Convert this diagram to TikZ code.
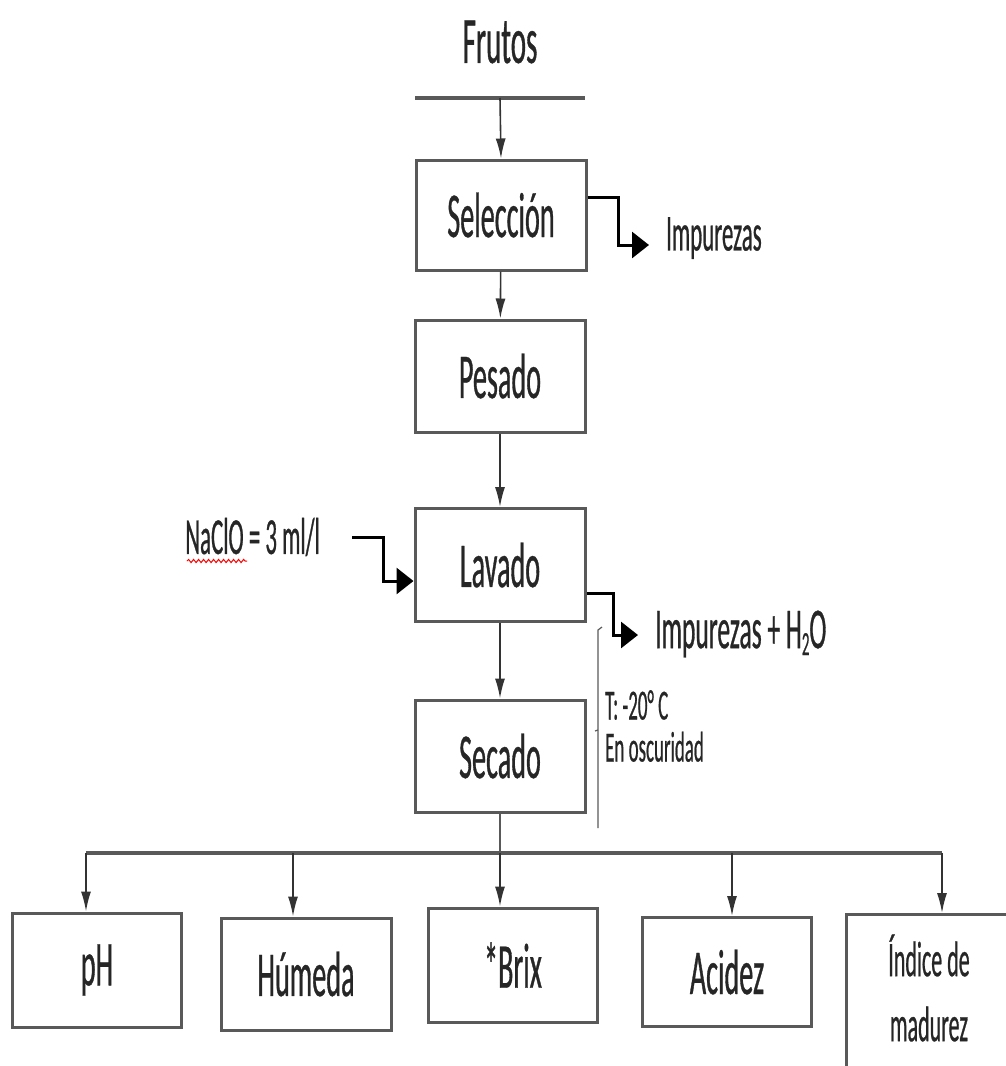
\documentclass[tikz,border=0pt]{standalone}
\usepackage{fontspec}
\setmainfont{Carlito}[FakeStretch=0.44,FakeBold=0.5]
\usetikzlibrary{arrows.meta,decorations.pathmorphing}
\definecolor{boxgray}{HTML}{595959}
\definecolor{txt}{HTML}{262626}
\tikzset{
	stepbox/.style={draw=boxgray, line width=3pt, minimum width=170pt, minimum height=112pt, inner sep=0pt, text=txt, font=\fontsize{64}{70}\selectfont},
	down/.style={draw=black!80, line width=1.6pt, -{Latex[length=20pt,width=10pt]}},
	side/.style={draw=black, line width=3pt, -{Triangle[length=17pt,width=26pt]}},
	bar/.style={draw=boxgray, line width=4pt},
	note/.style={text=txt, inner sep=0pt}
}
\begin{document}
\begin{tikzpicture}[x=1pt,y=-1pt]
	\useasboundingbox (0,0) rectangle (1006,1066);
	% main line
	\node[note, font=\fontsize{66}{70}\selectfont] (frutos) at (500,42) {Frutos};
	\coordinate (fr1) at (415,98);
	\coordinate (fr2) at (585,98);
	\coordinate (frc) at (500,98);
	\draw[bar] (fr1) -- (fr2);
	\node[stepbox, minimum height=110pt] (sel) at (501,215) {Selección};
	\node[stepbox] (pes) at (500,376) {Pesado};
	\node[stepbox, minimum height=113pt] (lav) at (500,565) {Lavado};
	\node[stepbox] (sec) at (500,756) {Secado};
	\draw[down] (frc) -- (sel.north);
	\draw[down] (sel) -- (pes);
	\draw[down] (pes) -- (lav);
	\draw[down] (lav) -- (sec);
	% side streams
	\node[note, anchor=west, inner xsep=17pt, font=\fontsize{52}{60}\selectfont] (imp1) at (649,238) {Impurezas};
	\draw[side] (sel.east |- 0,197) -- (618,197) -- (618,245) -- (imp1.west |- 0,245);
	\node[note, anchor=east, inner xsep=32pt, font=\fontsize{52}{60}\selectfont] (naclo) at (352,537) {NaClO = 3 ml/l};
	\draw[red, line width=1pt, decorate, decoration={snake, amplitude=1.6pt, segment length=5pt}] (187,561) -- (247,561);
	\draw[side] (naclo.east) -- (383,537) -- (383,581) -- (lav.west |- 0,581);
	\node[note, anchor=west, inner xsep=17pt, font=\fontsize{58}{64}\selectfont] (imp2) at (638,634) {Impurezas + H\raisebox{-7pt}{\fontsize{34}{34}\selectfont 2}O};
	\draw[side] (lav.east |- 0,593) -- (613,593) -- (613,635) -- (imp2.west |- 0,635);
	% drying conditions
	\draw[boxgray, line width=1.2pt] (602,627) -- (598,630) -- (598,828);
	\draw[boxgray, line width=1.2pt] (598,730) -- (595,731);
	\node[note, anchor=west, align=left, font=\fontsize{43}{42}\selectfont] (cond) at (605,726) {T: -20° C\\En oscuridad};
	% analyses
	\node[stepbox, minimum width=169pt, minimum height=114pt] (ph) at (97,970) {pH};
	\node[stepbox, minimum height=112pt] (hum) at (306,974) {Húmeda};
	\node[stepbox, minimum width=169pt, minimum height=114pt] (brix) at (513,965) {*Brix};
	\node[stepbox, minimum width=169pt, minimum height=109pt] (acid) at (727,972) {Acidez};
	\node[stepbox, minimum height=180pt, anchor=north west] (idx) at (845,913) {};
	\node[note, align=center, font=\fontsize{50}{65}\selectfont] (idxt) at (929,988) {Índice de\\madurez};
	\coordinate (b1) at (86,853);
	\coordinate (b5) at (942,853);
	\draw[bar] (b1) -- (b5);
	\draw[boxgray, line width=2pt] (sec.south) -- (sec.south |- b1);
	\foreach \n/\x in {ph/86,hum/293,brix/500,acid/732,idx/942}
		\draw[down] (\x,853) -- (\x,853 |- \n.north);
\end{tikzpicture}
\end{document}
